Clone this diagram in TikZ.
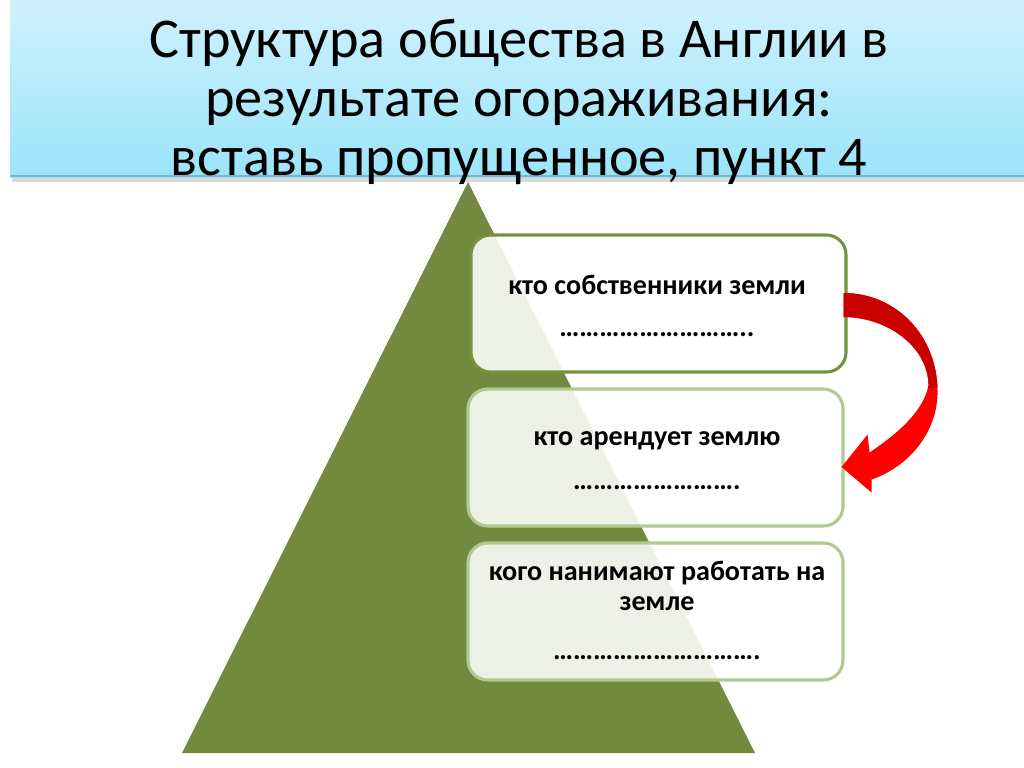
\documentclass[tikz,border=0pt]{standalone}
\usepackage{fontspec}
\setmainfont{Carlito}
\usetikzlibrary{calc}
\definecolor{bannertop}{HTML}{CFF1FB}
\definecolor{bannerbot}{HTML}{9CE4FA}
\definecolor{bannerline}{HTML}{7AB6C6}
\definecolor{pyrgreen}{HTML}{728A3F}
\definecolor{boxdark}{HTML}{76923C}
\definecolor{boxlight}{HTML}{B2C98E}
\definecolor{arrowdark}{HTML}{C80000}
\definecolor{arrowred}{HTML}{FF0000}
\newcommand\el{…}
\tikzset{
  titleline/.style={anchor=base, inner sep=0pt, font=\fontsize{40}{48}\selectfont},
  boxtext/.style={anchor=base, inner sep=0pt, font=\fontsize{20}{24}\selectfont\bfseries},
  levelbox/.style={draw, rounded corners=14pt, line width=2.2pt, fill=white, fill opacity=0.88,
    minimum width=375*0.25mm, minimum height=137*0.25mm, inner sep=0pt},
}
\begin{document}
\begin{tikzpicture}[x=0.25mm,y=-0.25mm]
\useasboundingbox (0,0) rectangle (1024,767);
\fill[white] (0,0) rectangle (1024,767);
% banner
\fill[gray!30] (12,177) rectangle (1024,182);
\shade[top color=bannertop, bottom color=bannerbot] (10,0) rectangle (1024,177);
\draw[bannerline, line width=1.2pt] (10,176) -- (1024,176);
% pyramid
\fill[pyrgreen] (468,182) -- (755,753) -- (182,753) -- cycle;
% boxes
\node[levelbox, draw=boxdark] (b1) at (658.5,303.5) {};
\node[levelbox, draw=boxlight] (b2) at (655.5,457.5) {};
\node[levelbox, draw=boxlight] (b3) at (655.5,611.5) {};
% title
\node[titleline] (t1) at (519,58) {Структура общества в Англии в};
\node[titleline] (t2) at (519,117) {результате огораживания:};
\node[titleline] (t3) at (519,176) {вставь пропущенное, пункт 4};
% box texts
\node[boxtext] (b1a) at (657,294) {кто собственники земли};
\node[boxtext] (b1b) at (657,336) {\el\el\el\el\el\el\el\el\el..};
\node[boxtext] (b2a) at (657,445) {кто арендует землю};
\node[boxtext] (b2b) at (657,489) {\el\el\el\el\el\el\el\el.};
\node[boxtext] (b3a) at (657,580) {кого нанимают работать на};
\node[boxtext] (b3b) at (657,610) {земле};
\node[boxtext] (b3c) at (657,659) {\el\el\el\el\el\el\el\el\el\el.};
% curved arrow from b1 to b2
\begin{scope}[shift={(b1.east)}]
  \def\arrowpath{(-4,-10.5) .. controls (48,-10.5) and (90,31.5) .. (90,88.5)
    .. controls (90,128) and (62,163) .. (24,176)
    -- (24,189) -- (-6,163.5) -- (20,131) -- (22,149)
    .. controls (50,130) and (76,108) .. (81,81.5)
    .. controls (80,41.5) and (38,13.5) .. (-4,13.5) -- cycle}
  \fill[arrowred] \arrowpath;
  \begin{scope}
    \clip (-10,-20) rectangle (100,84);
    \fill[arrowdark] \arrowpath;
  \end{scope}
\end{scope}
\end{tikzpicture}
\end{document}
